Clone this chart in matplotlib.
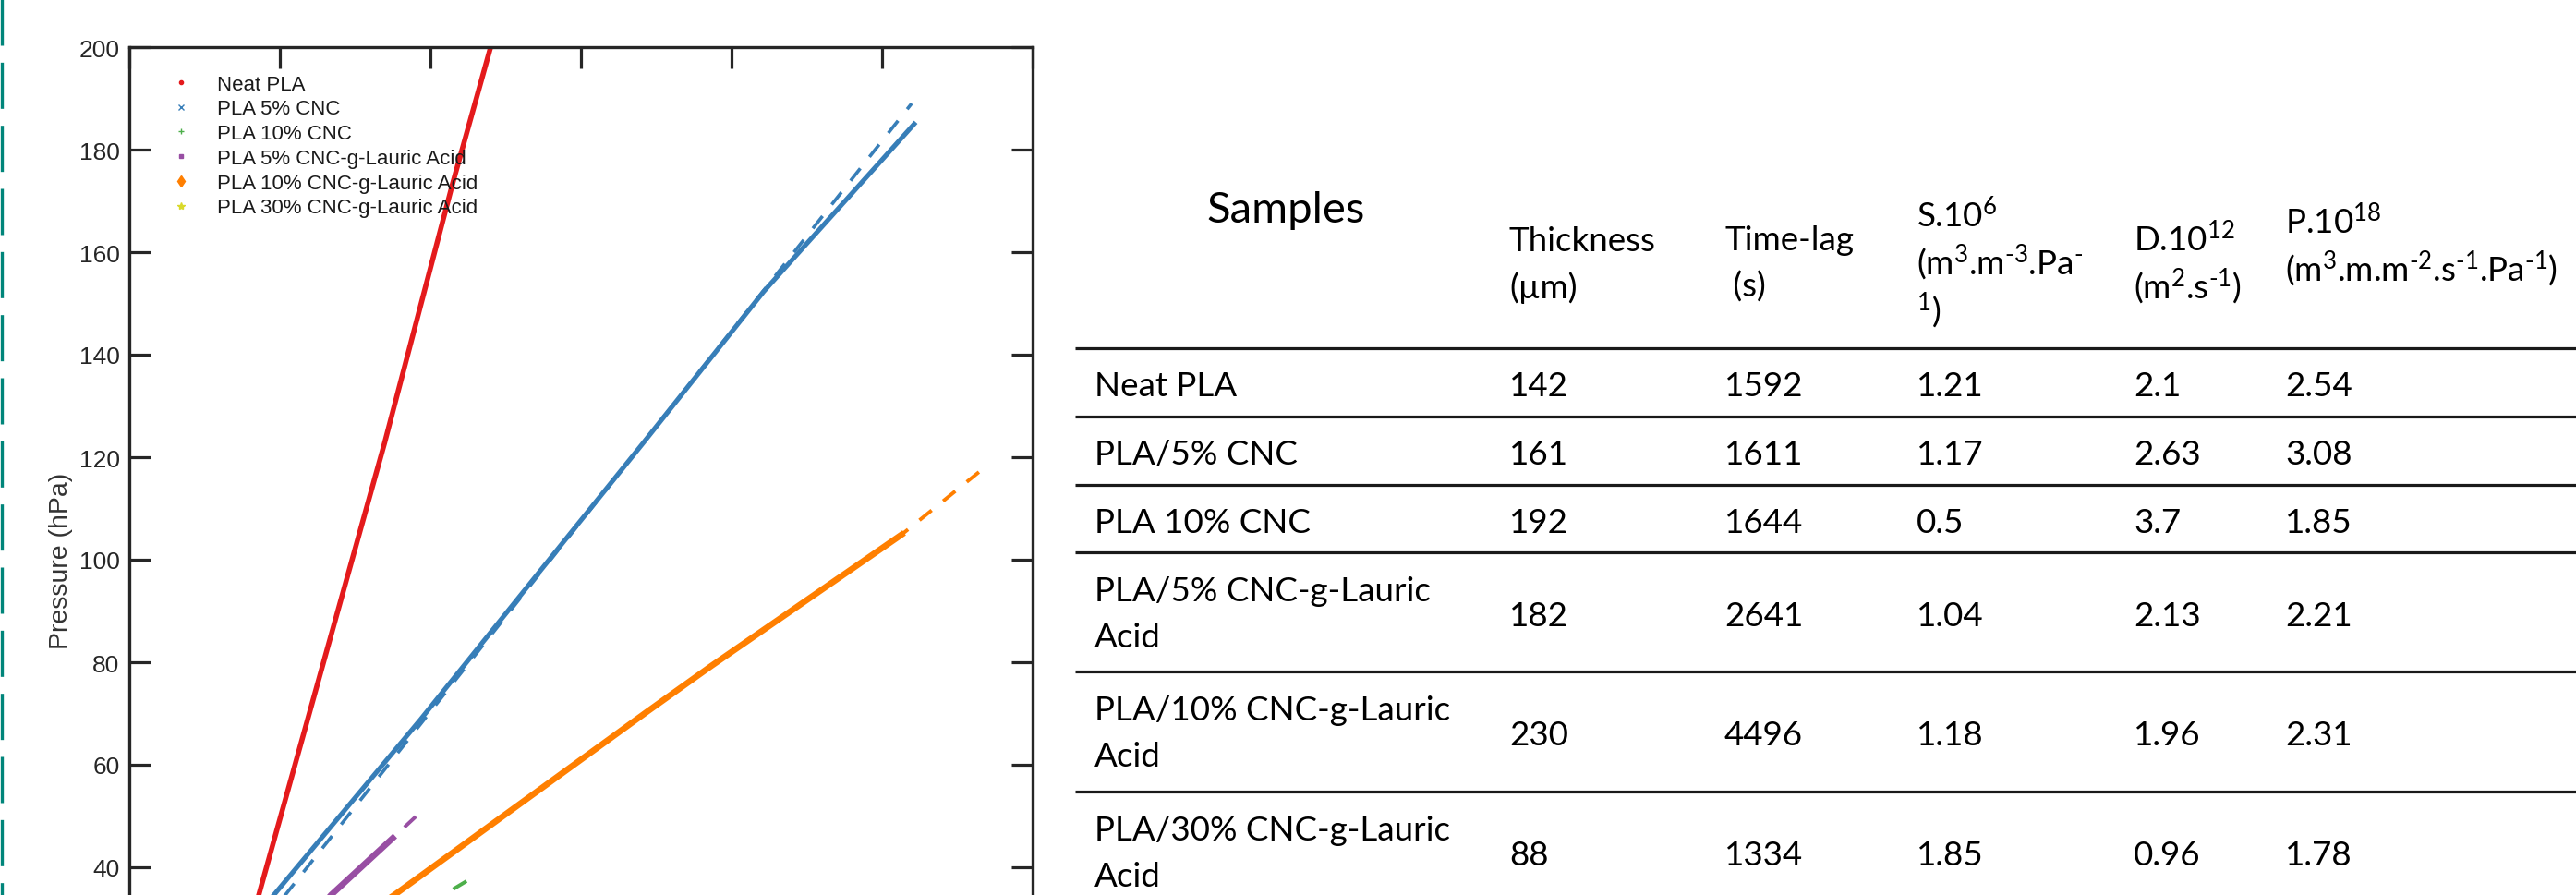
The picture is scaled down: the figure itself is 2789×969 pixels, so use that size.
import numpy as np
import matplotlib.pyplot as plt
from matplotlib.lines import Line2D

# pressure rise curves (time in s, pressure in hPa)
t_neat = [2420, 2580, 5090, 6440, 7200, 7340]
p_neat = [29.2, 34.6, 122.9, 173.3, 200.0, 205.0]

t_5cnc = [2740, 2880, 5800, 10250, 12640, 15640]
p_5cnc = [32.8, 34.6, 68.8, 122.9, 152.3, 185.0]
t_5cnc_fit = [2890, 15590]
p_5cnc_fit = [31.9, 189.0]

t_10cnc_fit = [6720, 6020]
p_10cnc_fit = [37.3, 33.2]

t_5la = [3900, 4020, 5250]
p_5la = [33.2, 34.6, 45.7]
t_5la_fit = [5710, 5250]
p_5la_fit = [49.9, 45.7]

t_10la = [5010, 5280, 10310, 11600, 15390]
p_10la = [32.8, 34.6, 70.3, 79.3, 104.9]
t_10la_fit = [16930, 15390]
p_10la_fit = [117.1, 104.9]

legend_labels = ["Neat PLA", "PLA 5% CNC", "PLA 10% CNC", "PLA 5% CNC-g-Lauric Acid",
                 "PLA 10% CNC-g-Lauric Acid", "PLA 30% CNC-g-Lauric Acid"]
yticks = [0, 20, 40, 60, 80, 100, 120, 140, 160, 180, 200]
# 0 and 20 fall below the cut edge of the picture
ytick_labels = ["", "", "40", "60", "80", "100", "120", "140", "160", "180", "200"]

# table
samples = ["Neat PLA", "PLA/5% CNC", "PLA 10% CNC", "PLA/5% CNC-g-Lauric\nAcid",
           "PLA/10% CNC-g-Lauric\nAcid", "PLA/30% CNC-g-Lauric\nAcid"]
thickness = ["142", "161", "192", "182", "230", "88"]
time_lag = ["1592", "1611", "1644", "2641", "4496", "1334"]
solub = ["1.21", "1.17", "0.5", "1.04", "1.18", "1.85"]
diffus = ["2.1", "2.63", "3.7", "2.13", "1.96", "0.96"]
perm = ["2.54", "3.08", "1.85", "2.21", "2.31", "1.78"]
headers = [["Thickness", "(µm)"],
           ["Time-lag", " (s)"],
           ["S.10$^{6}$", "(m$^{3}$.m$^{‐3}$.Pa$^{‐}$", "$^{1}$)"],
           ["D.10$^{12}$", "(m$^{2}$.s$^{‐1}$)"],
           ["P.10$^{18}$", "(m$^{3}$.m.m$^{‐2}$.s$^{‐1}$.Pa$^{‐1}$)"]]

plt.rcParams['font.family'] = ['Liberation Sans', 'DejaVu Sans']
plt.rcParams['lines.scale_dashes'] = False
plt.rcParams['mathtext.fontset'] = 'custom'
plt.rcParams['mathtext.rm'] = 'Lato'
plt.rcParams['mathtext.it'] = 'Lato:italic'
plt.rcParams['mathtext.bf'] = 'Lato:bold'

red, blue, green = '#e41a1c', '#377eb8', '#4daf4a'
purple, orange, yellow = '#984ea3', '#ff7f00', '#d9d92b'
dash = (0, (12.2, 11.5))

W, H = 2789, 970
fig = plt.figure(figsize=(W / 100, H / 100), dpi=100)
# the plot is cut at the bottom: axes run below the figure edge
ax = fig.add_axes([140 / W, (H - 1162) / H, 978 / W, 1110 / H])

ax.plot(t_neat, p_neat, color=red, lw=4.0)
ax.plot(t_5cnc_fit, p_5cnc_fit, color=blue, lw=2.6, ls=dash)
ax.plot(t_5cnc, p_5cnc, color=blue, lw=3.7)
ax.plot(t_10cnc_fit, p_10cnc_fit, color=green, lw=2.8, ls=dash)
ax.plot(t_5la, p_5la, color=purple, lw=4.8)
ax.plot(t_5la_fit, p_5la_fit, color=purple, lw=2.8, ls=dash)
ax.plot(t_10la, p_10la, color=orange, lw=4.8)
ax.plot(t_10la_fit, p_10la_fit, color=orange, lw=2.8, ls=dash)

ax.set_xlim(0, 18000)
ax.set_ylim(0, 200)
ax.set_xticks(np.arange(0, 18001, 3000))
ax.set_yticks(yticks, ytick_labels)
ax.tick_params(direction='in', top=True, right=True, length=16.5, width=2.3,
               color='#262626', labelsize=19, labelcolor='#262626', pad=7.5)
ax.tick_params(axis='x', labelbottom=False)
for sp in ax.spines.values():
    sp.set_linewidth(2.4)
    sp.set_color('#262626')
ax.set_ylabel('Pressure (hPa)', fontsize=20.5, color='#333333', labelpad=5)

markers = ['.', 'x', '+', 's', 'd', '*']
colors = [red, blue, green, purple, orange, yellow]
msizes = [6, 4.5, 5, 3.5, 6, 6]
handles = [Line2D([], [], ls='none', marker=m, color=c, markersize=s, mew=1)
           for m, c, s in zip(markers, colors, msizes)]
ax.legend(handles, legend_labels, loc='upper left',
          bbox_to_anchor=((185 - 140) / 978, 0.9734), frameon=False, fontsize=16,
          handlelength=1.0, handletextpad=1.26, labelspacing=0.26,
          borderpad=0, borderaxespad=0, labelcolor='#1a1a1a')

# table drawn in pixel coordinates
tax = fig.add_axes([0, 0, 1, 1], zorder=3)
tax.set_xlim(0, W)
tax.set_ylim(H, 0)
tax.axis('off')

row_edges = [378, 452, 526, 599, 728, 858, 987]
col_x = [1185, 1634, 1867, 2075, 2310, 2474]
head_base = [[272, 323], [271, 322], [246, 297, 349], [272, 323], [253, 304]]
fs = 26.5
tf = 'Lato'

tax.hlines(row_edges[:-1], 1164, W, color='#1a1a1a', lw=2.3)
tax.text(1392, 241, "Samples", ha='center', va='baseline', fontsize=34, family=tf)
for j, lines in enumerate(headers):
    for line, yb in zip(lines, head_base[j]):
        tax.text(col_x[j + 1], yb, line, ha='left', va='baseline', fontsize=fs, family=tf)

cols = [thickness, time_lag, solub, diffus, perm]
for i in range(len(samples)):
    c = (row_edges[i] + row_edges[i + 1]) / 2
    parts = samples[i].split('\n')
    if len(parts) == 1:
        ys = [c + 14.5]
    else:
        ys = [c - 12.5, c + 37.5]
    for line, yb in zip(parts, ys):
        tax.text(col_x[0], yb, line, ha='left', va='baseline', fontsize=fs, family=tf)
    for j, col in enumerate(cols):
        tax.text(col_x[j + 1], c + 14.5, col[i], ha='left', va='baseline', fontsize=fs, family=tf)

# teal dashed rule along the left edge
fig.add_artist(Line2D([1.7 / W, 1.7 / W], [1, 0], transform=fig.transFigure,
                      color='#00857a', lw=2.4, ls=(0, (36, 13.2))))

fig.savefig('out.png', dpi=100)
